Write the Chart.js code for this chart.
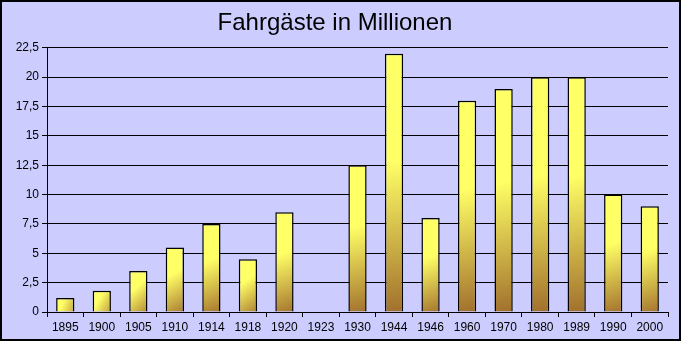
<!DOCTYPE html>
<html>
<head>
<meta charset="utf-8">
<script src="https://cdn.jsdelivr.net/npm/chart.js@4.4.1/dist/chart.umd.min.js"></script>
<style>
  html, body { margin: 0; padding: 0; background: #ccccff; }
  #wrap { width: 681px; height: 341px; box-sizing: border-box; border: 2px solid #000; background: #ccccff; }
</style>
</head>
<body>
<div id="wrap"><canvas id="chart" width="677" height="337"></canvas></div>
<script>
const years = ['1895', '1900', '1905', '1910', '1914', '1918', '1920', '1923', '1930', '1944', '1946', '1960', '1970', '1980', '1989', '1990', '2000'];
const passengers = [1.2, 1.8, 3.5, 5.5, 7.5, 4.5, 8.5, 0, 12.5, 22, 8, 18, 19, 20, 20, 10, 9];

// yellow at the top, brown at the bottom, slightly diagonal, per bar
function barGradient(context) {
  const chart = context.chart;
  const xs = chart.scales.x, ys = chart.scales.y;
  if (!chart.chartArea || !xs || !ys || context.type !== 'data') return '#ffff66';
  const value = passengers[context.dataIndex];
  const cx = xs.getPixelForValue(context.dataIndex);
  const w = (xs.width / years.length) * 0.5;
  const top = ys.getPixelForValue(value);
  const bottom = ys.getPixelForValue(0);
  if (!isFinite(top) || bottom - top < 1) return '#ffff66';
  const g = chart.ctx.createLinearGradient(cx - w, top, cx + w, bottom);
  g.addColorStop(0, '#ffff66');
  g.addColorStop(0.42, '#ffff66');
  g.addColorStop(1, '#a06e2c');
  return g;
}

new Chart(document.getElementById('chart'), {
  type: 'bar',
  data: {
    labels: years,
    datasets: [{
      data: passengers,
      backgroundColor: barGradient,
      borderColor: '#000',
      borderWidth: 1.5,
      barPercentage: 0.5,
      categoryPercentage: 1
    }]
  },
  options: {
    responsive: false,
    animation: false,
    layout: { padding: { left: 0, right: 11, top: 0, bottom: 0 } },
    plugins: {
      legend: { display: false },
      tooltip: { enabled: false },
      title: {
        display: true,
        text: 'Fahrgäste in Millionen',
        color: '#000',
        font: { family: 'Liberation Sans', size: 24, weight: 'normal', lineHeight: 1.2 },
        padding: { top: 7, bottom: 10 }
      }
    },
    scales: {
      x: {
        offset: true,
        grid: { display: true, drawOnChartArea: false, offset: true, color: '#000', tickLength: 5, tickColor: '#000' },
        border: { color: '#000', width: 1 },
        ticks: { color: '#000', font: { family: 'Liberation Sans', size: 12 }, padding: 3, maxRotation: 0, autoSkip: false },
        afterFit: s => { s.height = 27; }
      },
      y: {
        min: 0,
        max: 22.5,
        grid: { color: '#000', lineWidth: 1, tickLength: 5, tickColor: '#000' },
        border: { color: '#000', width: 1 },
        ticks: {
          stepSize: 2.5,
          color: '#000',
          font: { family: 'Liberation Sans', size: 12 },
          padding: 3,
          callback: v => String(v).replace('.', ',')
        },
        afterFit: s => { s.width = 45; }
      }
    }
  }
});
</script>
</body>
</html>
